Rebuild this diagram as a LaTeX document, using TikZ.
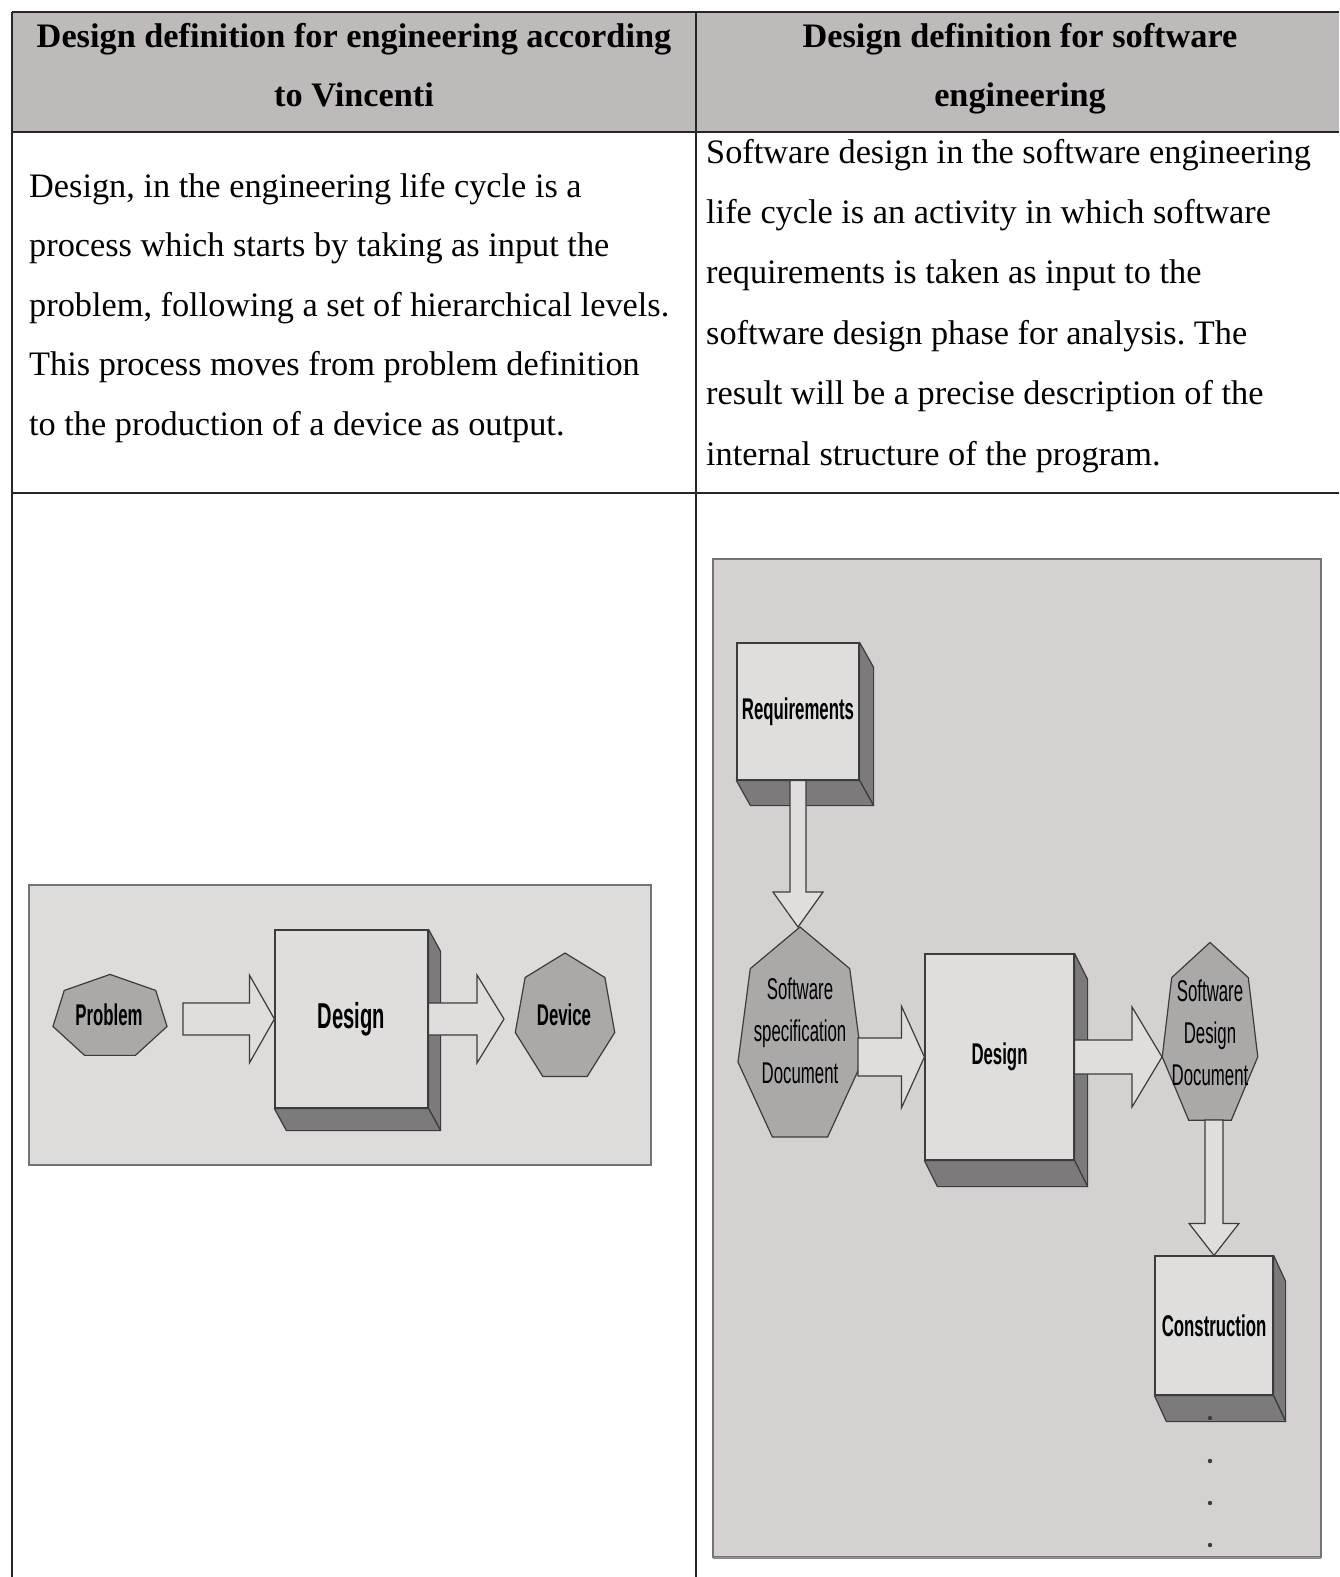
\documentclass[tikz,border=0pt]{standalone}
\usepackage{fontspec}
\setmainfont{Liberation Serif}
\newfontfamily\diafont[FakeStretch=0.56]{Liberation Sans}
\usetikzlibrary{positioning,calc}
\frenchspacing

\definecolor{headgray}{HTML}{BDBAB9}
\definecolor{panelA}{HTML}{DEDCDA}
\definecolor{panelB}{HTML}{D5D1D0}
\definecolor{hepgray}{HTML}{ABA8A8}
\definecolor{facegray}{HTML}{E0DEDC}
\definecolor{sidegray}{HTML}{7C7A7A}
\definecolor{inkgray}{HTML}{3C3C3C}

\tikzset{
  rule/.style={line width=2pt, black!85},
  panel/.style={draw=black!55, line width=1.2pt},
  face/.style={draw=inkgray, fill=facegray, line width=1.2pt, inner sep=0pt},
  side/.style={draw=inkgray, fill=sidegray, line width=1.2pt, line join=round},
  hepbody/.style={draw=inkgray, fill=hepgray, line width=1.2pt},
  fat/.style={draw=inkgray, fill=facegray, line width=1.2pt},
  boxlbl/.style={font=\diafont\bfseries\fontsize{30}{36}\selectfont},
  doclbl/.style={font=\diafont\fontsize{30}{42}\selectfont, align=center},
}

% heptagon with one corner on top: centre, x radius, y radius
\newcommand{\hepta}[3]{%
  \filldraw[hepbody, shift={#1}] (-90:#2 and #3)
    \foreach \k in {1,...,6} { -- ({-90+\k*360/7}:#2 and #3) } -- cycle;}

% depth faces of a box node: node, dx, dy
\newcommand{\slab}[3]{%
  \filldraw[side] (#1.north east) -- ++(#2,#3) -- ($(#1.south east)+(#2,#3)$) -- (#1.south east) -- cycle;
  \filldraw[side] (#1.south west) -- (#1.south east) -- ++(#2,#3) -- ($(#1.south west)+(#2,#3)$) -- cycle;}

% hollow block arrow: from, to, shaft half width, head half width, head length
\newcommand{\fatarrow}[5]{%
  \path (#1) coordinate (fa-s) (#2) coordinate (fa-t) ($(fa-t)!#5!(fa-s)$) coordinate (fa-h);
  \filldraw[fat] ($(fa-s)!#3!90:(fa-t)$) -- ($(fa-h)!#3!-90:(fa-s)$) -- ($(fa-h)!#4!-90:(fa-s)$)
    -- (fa-t) -- ($(fa-h)!#4!90:(fa-s)$) -- ($(fa-h)!#3!90:(fa-s)$) -- ($(fa-s)!#3!-90:(fa-t)$) -- cycle;}

\begin{document}
\begin{tikzpicture}[x=1pt, y=-1pt]
    \useasboundingbox (0,0) rectangle (1339,1577);
    \fill[white] (0,0) rectangle (1339,1577);

    % header (base = last line)
    \fill[headgray] (12,12) rectangle (1339,132);
    \node[anchor=base, align=center, inner sep=0pt,
      font=\bfseries\fontsize{34.3}{59}\selectfont] (headA) at (354,106)
      {Design definition for engineering according\\to Vincenti};
    \node[anchor=base, align=center, inner sep=0pt,
      font=\bfseries\fontsize{34.3}{59}\selectfont] (headB) at (1020,106)
      {Design definition for software\\engineering};

    % definitions
    \node[anchor=base west, align=left, inner sep=0pt,
      font=\fontsize{34.3}{59.6}\selectfont] (defA) at (29,435.4)
      {Design, in the engineering life cycle is a\\
       process which starts by taking as input the\\
       problem, following a set of hierarchical levels.\\
       This process moves from problem definition\\
       to the production of a device as output.};
    \node[anchor=base west, align=left, inner sep=0pt,
      font=\fontsize{34.3}{60.4}\selectfont] (defB) at (706,465)
      {Software design in the software engineering\\
       life cycle is an activity in which software\\
       requirements is taken as input to the\\
       software design phase for analysis. The\\
       result will be a precise description of the\\
       internal structure of the program.};

    % engineering panel
    \draw[panel, fill=panelA] (29,885) rectangle (651,1165);
    \hepta{(110,1017)}{58.5}{42.6}
    \node[boxlbl] (prob) at (109,1015) {Problem};
    \node[face, boxlbl, font=\diafont\bfseries\fontsize{36}{40}\selectfont,
      minimum width=153, minimum height=178] (dsgnA) at (351.5,1019) {Design};
    \slab{dsgnA}{12}{22}
    \hepta{(565,1018)}{51}{65}
    \node[boxlbl] (dev) at (564,1015) {Device};
    \coordinate (probout) at (183,1019);
    \coordinate (devin) at (504,1019);
    \fatarrow{probout}{dsgnA.west}{16pt}{44pt}{25pt}
    \fatarrow{dsgnA.east}{devin}{16pt}{44pt}{27pt}

    % software panel
    \draw[panel, fill=panelB] (713,559) rectangle (1321,1557);
    \draw[line width=2.5pt, black!45] (713,1558) -- (1321,1558);
    \node[face, boxlbl, minimum width=122, minimum height=137] (reqs) at (798,711.5) {Requirements};
    \slab{reqs}{14}{25}
    \hepta{(800,1037.5)}{63.6}{110.5}
    \node[doclbl] (spec) at (800,1031) {Software\\specification\\Document};
    \node[face, boxlbl, minimum width=149, minimum height=206] (dsgnB) at (999.5,1057) {Design};
    \slab{dsgnB}{13}{26}
    \hepta{(1210,1036)}{49}{93.6}
    \node[doclbl] (sdd) at (1210,1033) {Software\\Design\\Document};
    \node[face, boxlbl, minimum width=118, minimum height=139] (constr) at (1214,1325.5) {Construction};
    \slab{constr}{12}{26}
    \coordinate (spectop) at (798,927);
    \coordinate (specout) at (858,1057);
    \coordinate (sddin) at (1162,1057);
    \coordinate (sddout) at (1214,1120);
    \fatarrow{reqs.south}{spectop}{8pt}{25pt}{35pt}
    \fatarrow{specout}{dsgnB.west}{19pt}{51pt}{23pt}
    \fatarrow{dsgnB.east}{sddin}{17pt}{50pt}{30pt}
    \fatarrow{sddout}{constr.north}{9pt}{25pt}{32pt}
    \foreach \y in {1418,1461,1503,1545}
      \fill[inkgray] (1210,\y) circle (2.2);

    % table rules
    \draw[rule, line width=2.6pt] (12,12) -- (1339,12);
    \draw[rule, line width=2.6pt] (12,132) -- (1339,132);
    \draw[rule] (12,493) -- (1339,493);
    \draw[rule] (12,12) -- (12,1577);
    \draw[rule] (696,12) -- (696,1577);
\end{tikzpicture}
\end{document}
